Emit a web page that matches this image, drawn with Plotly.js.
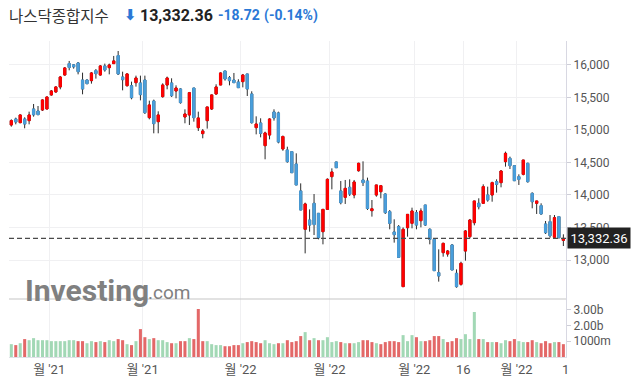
<!DOCTYPE html>
<html>
<head>
<meta charset="utf-8">
<script src="https://cdn.plot.ly/plotly-3.0.1.min.js"></script>
<style>
  html, body { margin: 0; padding: 0; background: #fff; }
  #chart { width: 631px; height: 383px; }
</style>
</head>
<body>
<div id="chart"></div>
<script>
// Trading days (daily candles)
const dates = [
  '2021-10-19','2021-10-20','2021-10-21','2021-10-22','2021-10-25','2021-10-26','2021-10-27','2021-10-28','2021-10-29',
  '2021-11-01','2021-11-02','2021-11-03','2021-11-04','2021-11-05','2021-11-08','2021-11-09','2021-11-10','2021-11-11','2021-11-12',
  '2021-11-15','2021-11-16','2021-11-17','2021-11-18','2021-11-19','2021-11-22','2021-11-23','2021-11-24','2021-11-26','2021-11-29','2021-11-30',
  '2021-12-01','2021-12-02','2021-12-03','2021-12-06','2021-12-07','2021-12-08','2021-12-09','2021-12-10','2021-12-13','2021-12-14','2021-12-15',
  '2021-12-16','2021-12-17','2021-12-20','2021-12-21','2021-12-22','2021-12-23','2021-12-27','2021-12-28','2021-12-29','2021-12-30','2021-12-31',
  '2022-01-03','2022-01-04','2022-01-05','2022-01-06','2022-01-07','2022-01-10','2022-01-11','2022-01-12','2022-01-13','2022-01-14',
  '2022-01-18','2022-01-19','2022-01-20','2022-01-21','2022-01-24','2022-01-25','2022-01-26','2022-01-27','2022-01-28','2022-01-31',
  '2022-02-01','2022-02-02','2022-02-03','2022-02-04','2022-02-07','2022-02-08','2022-02-09','2022-02-10','2022-02-11','2022-02-14',
  '2022-02-15','2022-02-16','2022-02-17','2022-02-18','2022-02-22','2022-02-23','2022-02-24','2022-02-25','2022-02-28',
  '2022-03-01','2022-03-02','2022-03-03','2022-03-04','2022-03-07','2022-03-08','2022-03-09','2022-03-10','2022-03-11','2022-03-14',
  '2022-03-15','2022-03-16','2022-03-17','2022-03-18','2022-03-21','2022-03-22','2022-03-23','2022-03-24','2022-03-25','2022-03-28',
  '2022-03-29','2022-03-30','2022-03-31','2022-04-01','2022-04-04','2022-04-05','2022-04-06','2022-04-07','2022-04-08','2022-04-11',
  '2022-04-12','2022-04-13','2022-04-14','2022-04-18'
];

const open = [
  15077,15169,15113,15169,15144,15323,15292,15308,15323,15539,15585,15662,15846,16021,16002,16031,15769,15769,15759,15913,
  15846,15985,15959,16021,16144,15815,15682,15682,15728,15723,15769,15190,15446,15128,15513,15692,15723,15600,15631,15200,
  15231,15646,15036,14944,15144,15323,15554,15692,15908,15805,15769,15738,15744,15862,15554,15036,15108,14759,14923,15277,
  15262,14708,14692,14667,14477,14062,13472,13615,13872,13718,13436,13779,14282,14508,14062,13964,14118,14000,14374,14231,
  14215,13759,14000,14051,14015,13744,13431,13513,12590,13497,13564,13728,13605,13846,13472,13318,12805,13113,13092,13231,
  12795,12626,13138,13359,13574,13872,13872,14000,14000,14205,14190,14513,14564,14451,14282,14318,14487,14025,13872,13836,
  13554,13590,13349,13667,13302
];
const high = [
  15164,15190,15241,15195,15282,15400,15369,15472,15513,15615,15672,15831,15969,16062,16015,16046,15882,15780,15892,15938,
  16000,16021,16021,16139,16215,15897,15872,15744,15836,15836,15836,15451,15467,15287,15718,15821,15795,15687,15641,15318,
  15585,15646,15282,15015,15354,15545,15703,15887,15908,15831,15877,15780,15862,15862,15595,15210,15180,14974,15180,15318,
  15282,14915,14743,14670,14641,14179,13882,13779,14015,13718,13779,14256,14410,14510,14215,14231,14241,14231,14497,14518,
  14267,13923,14154,14154,14025,13769,13626,13538,13502,13702,13805,13769,13795,13846,13487,13333,13164,13267,13154,13246,
  12856,12974,13461,13631,13908,13949,14164,14128,14205,14241,14384,14667,14590,14451,14318,14538,14497,14041,13908,13872,
  13600,13692,13692,13677,13395
];
const low = [
  15051,15087,15103,15026,15087,15205,15226,15292,15318,15528,15574,15626,15836,15918,15944,15856,15549,15703,15713,15790,
  15836,15897,15856,16021,15846,15610,15667,15472,15667,15456,15246,15164,14949,14949,15497,15626,15508,15487,15405,15103,
  15077,15128,14985,14872,15021,15308,15544,15692,15759,15687,15728,15651,15656,15523,15098,14933,14887,14549,14856,15144,
  14795,14680,14497,14340,14154,13769,13102,13436,13384,13318,13241,13769,14087,14415,13856,13862,13984,13949,14359,14138,
  13769,13667,13974,13949,13708,13472,13267,13041,12590,13359,13487,13472,13502,13523,13241,12836,12667,13051,13051,12846,
  12574,12605,12990,13333,13533,13779,13862,13897,13897,14036,14118,14436,14400,14215,14154,14302,14190,13795,13708,13697,
  13400,13343,13343,13333,13215
];
const close = [
  15144,15123,15231,15092,15231,15234,15237,15462,15508,15600,15662,15815,15954,15962,15972,15897,15631,15713,15877,15867,
  15985,15923,16000,16062,15862,15774,15862,15497,15800,15544,15267,15385,15098,15231,15692,15800,15528,15646,15421,15246,
  15574,15190,15185,14985,15354,15539,15662,15877,15785,15759,15728,15651,15846,15631,15113,15092,14949,14954,15169,15185,
  14815,14900,14513,14343,14154,13769,13862,13538,13545,13343,13779,14241,14354,14420,13882,14102,14015,14200,14487,14190,
  13792,13788,14154,14143,13728,13564,13390,13041,13472,13702,13754,13538,13754,13538,13318,12836,12754,13256,13138,12846,
  12590,12949,13446,13615,13908,13820,14128,13923,14190,14164,14369,14641,14451,14220,14241,14538,14205,13897,13908,13708,
  13420,13374,13651,13343,13332.36
];
// Volume in billions
const volumeB = [
  0.81,0.75,0.87,1.13,1.06,1.19,1.06,1.06,1.06,1.00,1.00,1.00,1.00,1.06,1.06,1.00,1.00,0.87,1.00,0.94,
  1.00,0.94,1.06,1.00,1.13,1.06,0.81,0.75,1.00,1.76,1.25,1.13,1.19,1.06,1.06,0.94,0.87,0.87,1.00,1.00,
  1.19,1.13,3.03,1.00,1.00,0.81,0.75,0.75,0.68,0.68,0.75,0.75,0.87,0.94,1.00,0.94,0.87,1.06,0.87,0.81,
  0.87,0.87,1.06,0.94,1.00,1.32,1.57,1.06,1.19,1.06,1.06,1.25,0.94,1.00,0.94,0.87,0.87,0.87,0.94,1.06,
  1.06,0.94,0.87,0.81,0.94,1.00,1.00,0.94,1.38,1.00,1.38,1.25,1.00,1.00,1.06,1.32,1.32,1.13,0.94,1.00,
  1.19,1.13,1.44,1.13,2.84,1.13,1.13,0.94,0.94,0.94,0.87,1.06,1.00,1.13,1.00,0.94,0.94,1.06,0.94,0.87,
  1.00,0.87,0.94,0.94,0.81
];

// Axis labels
const tickDates = ['2021-11-01','2021-12-01','2022-01-03','2022-02-01','2022-03-01','2022-03-16','2022-04-01','next'];
const tickLabels = ["월 '21","월 '21","월 '22","월 '22","월 '22","16","월 '22","1"];
const priceTicks = [13000,13500,14000,14500,15000,15500,16000];
const volTicks = [1e9, 2e9, 3e9];
const volTickLabels = ['1000m','2.00b','3.00b'];

const titleName = '나스닥종합지수';
const lastPrice = '13,332.36';
const change = '-18.72';
const changePct = '(-0.14%)';

// ---- derived ----
const idx = dates.map((d, i) => i);
const tickVals = tickDates.map(d => (d === 'next' ? dates.length : dates.indexOf(d)) - 0.5);
const bodyHigh = open.map((o, i) => Math.max(o, close[i]));
const bodyLow = open.map((o, i) => Math.min(o, close[i]));
const UP = '#ff0000', DOWN = '#4a9fdc', WICK = '#2b2b2b';
const VUP = '#a2d8b5', VDOWN = '#e36868';
const volColors = close.map((c, i) => (i === 0 || c >= close[i - 1]) ? VUP : VDOWN);
const last = close[close.length - 1];

const L = 9, R = 566, T = 41, B = 357, SEP = 299;
const px = x => (x - L) / (R - L);
const py = y => (B - y) / (B - T);
const splitFrac = (B - SEP) / (B - T);

const fnt = 'Roboto, "Noto Sans CJK KR", Arial, sans-serif';

const traces = [
  {
    type: 'candlestick', x: idx, open: open, high: high, low: low, close: close,
    increasing: { line: { color: WICK, width: 1 }, fillcolor: WICK },
    decreasing: { line: { color: WICK, width: 1 }, fillcolor: WICK },
    whiskerwidth: 0, hoverinfo: 'skip', showlegend: false, xaxis: 'x', yaxis: 'y'
  },
  {
    type: 'candlestick', x: idx, open: open, high: bodyHigh, low: bodyLow, close: close,
    increasing: { line: { color: UP, width: 1 }, fillcolor: UP },
    decreasing: { line: { color: DOWN, width: 1 }, fillcolor: DOWN },
    whiskerwidth: 0, hoverinfo: 'skip', showlegend: false, xaxis: 'x', yaxis: 'y'
  },
  {
    type: 'bar', x: idx, y: volumeB.map(v => v * 1e9), width: 0.68,
    marker: { color: volColors, line: { width: 0 } },
    hoverinfo: 'skip', showlegend: false, xaxis: 'x', yaxis: 'y2'
  }
];

const layout = {
  width: 631, height: 383,
  margin: { l: L, r: 631 - R, t: T, b: 383 - B, pad: 0 },
  paper_bgcolor: '#fff', plot_bgcolor: '#fff',
  showlegend: false,
  barmode: 'overlay',
  font: { family: fnt, color: '#555', size: 12 },
  xaxis: {
    type: 'linear', domain: [0, 1], anchor: 'y2',
    range: [-0.52, 124.59],
    tickvals: tickVals, ticktext: tickLabels,
    tickfont: { size: 13, color: '#555', family: fnt },
    showgrid: true, gridcolor: '#f0f0f2', gridwidth: 1,
    zeroline: false, showline: true, linecolor: '#e0e0e8', linewidth: 1,
    ticks: '', fixedrange: true,
    rangeslider: { visible: false }
  },
  yaxis: {
    domain: [splitFrac, 1], anchor: 'x', side: 'right',
    range: [12400, 16369],
    tickvals: priceTicks, ticktext: priceTicks.map(v => v.toLocaleString('en-US')),
    tickfont: { size: 12, color: '#555', family: fnt },
    showgrid: true, gridcolor: '#f0f0f2', zeroline: false,
    showline: true, linecolor: '#d8d8e2', linewidth: 1,
    ticks: 'outside', ticklen: 4, tickcolor: '#cfcfd8'
  },
  yaxis2: {
    domain: [0, splitFrac], anchor: 'x', side: 'right',
    range: [0, 3.66e9],
    tickvals: volTicks, ticktext: volTickLabels,
    tickfont: { size: 12, color: '#555', family: fnt },
    showgrid: false, zeroline: false,
    showline: true, linecolor: '#d8d8e2', linewidth: 1,
    ticks: 'outside', ticklen: 4, tickcolor: '#cfcfd8'
  },
  shapes: [
    { type: 'line', xref: 'paper', yref: 'paper', x0: 0, x1: 1, y0: splitFrac, y1: splitFrac,
      line: { color: '#c6c6c6', width: 1.2 } },
    { type: 'line', xref: 'paper', yref: 'y', x0: 0, x1: 1, y0: last, y1: last,
      line: { color: '#4a4a4a', width: 1.2, dash: '5px,3px' } }
  ],
  annotations: [
    { xref: 'paper', yref: 'paper', x: px(23), y: py(290), xanchor: 'left', yanchor: 'middle',
      text: '<b>Investing</b>', showarrow: false,
      font: { family: 'Roboto, Arial, sans-serif', size: 30, color: '#808080' } },
    { xref: 'paper', yref: 'paper', x: px(146), y: py(292), xanchor: 'left', yanchor: 'middle',
      text: '.com', showarrow: false,
      font: { family: 'Roboto, Arial, sans-serif', size: 19, color: '#808080' } },
    { xref: 'paper', yref: 'y', x: 1, y: last, xanchor: 'left', yanchor: 'middle', xshift: 1,
      text: lastPrice, showarrow: false, bgcolor: '#222222', width: 60, height: 18, align: 'center',
      font: { family: fnt, size: 13, color: '#ffffff' } },
    { xref: 'paper', yref: 'paper', x: px(7), y: py(15), xanchor: 'left', yanchor: 'middle',
      text: titleName, showarrow: false,
      font: { family: '"Noto Sans CJK KR", sans-serif', size: 15.5, color: '#333' } },
    { xref: 'paper', yref: 'paper', x: px(130), y: py(15), xanchor: 'center', yanchor: 'middle',
      text: '<b>⬇</b>', showarrow: false,
      font: { family: '"DejaVu Sans", sans-serif', size: 15, color: '#2a78d6' } },
    { xref: 'paper', yref: 'paper', x: px(138), y: py(15), xanchor: 'left', yanchor: 'middle',
      text: '<b>' + lastPrice + '</b>', showarrow: false,
      font: { family: fnt, size: 16, color: '#222' } },
    { xref: 'paper', yref: 'paper', x: px(216), y: py(15), xanchor: 'left', yanchor: 'middle',
      text: '<b>' + change + '</b>', showarrow: false,
      font: { family: fnt, size: 14, color: '#2a78d6' } },
    { xref: 'paper', yref: 'paper', x: px(262), y: py(15), xanchor: 'left', yanchor: 'middle',
      text: '<b>' + changePct + '</b>', showarrow: false,
      font: { family: fnt, size: 14, color: '#2a78d6' } }
  ]
};

Plotly.newPlot('chart', traces, layout, { staticPlot: true, displayModeBar: false });
</script>
</body>
</html>
